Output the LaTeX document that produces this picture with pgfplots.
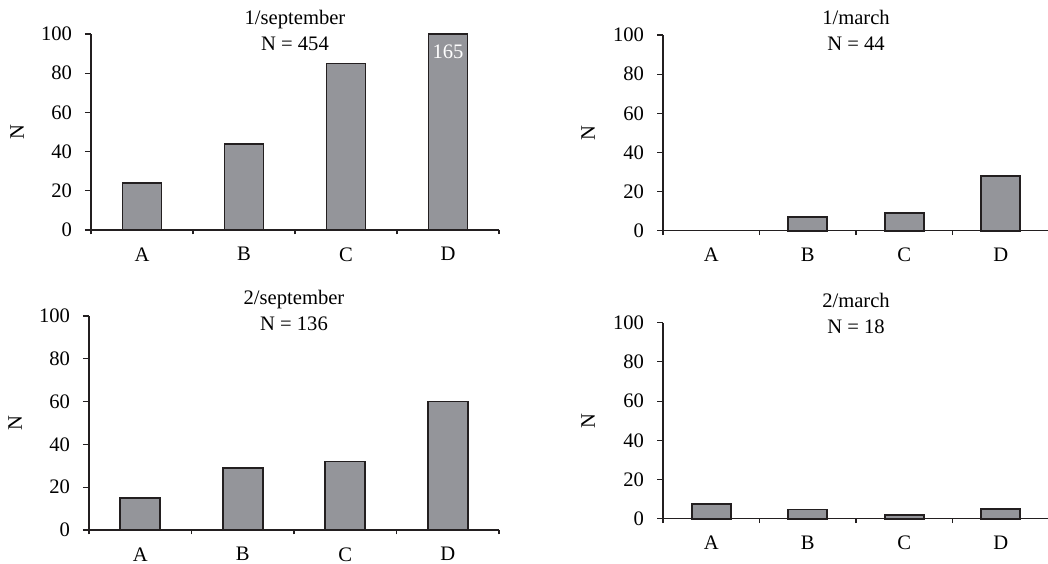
\documentclass[border=0pt]{standalone}
\usepackage{fontspec}
\setmainfont{Liberation Serif}
\usepackage{pgfplots}
\pgfplotsset{compat=1.18}
\definecolor{barfill}{RGB}{148,149,154}
\definecolor{edge}{RGB}{35,31,32}
\pgfplotsset{
  panel/.style={
    scale only axis,
    xmin=0.5, xmax=4.5, ymin=0, ymax=100,
    axis x line=bottom, axis y line=left,
    axis line style={-, edge, line width=0.55pt},
    xtick={1,2,3,4}, xticklabels={A,B,C,D},
    minor xtick={0.5,1.5,2.5,3.5,4.5},
    major x tick style={draw=none},
    minor tick length=2.2pt,
    major tick length=3pt,
    tick align=outside,
    tick style={edge, line width=0.55pt},
    ytick={0,20,...,100},
    /pgf/number format/assume math mode=true,
    tick label style={font=\fontsize{10.3}{12}\selectfont},
    yticklabel style={xshift=-3pt},
    xticklabel style={yshift=-2.2pt},
    ylabel={N},
    ylabel style={font=\fontsize{10.3}{12}\selectfont},
    clip=false,
    ybar, bar width=19.5pt,
  },
  barsty/.style={fill=barfill, draw=edge, line width=0.8pt},
}
\newcommand{\ptitle}[3]{\node[align=center, font=\fontsize{10.3}{13}\selectfont, yshift=#3] at (axis description cs:0.5,1) {#1\\N = #2};}
\begin{document}
\begin{tikzpicture}
\useasboundingbox (0,0) rectangle (524pt,281.5pt);
% Panel 1
\begin{axis}[panel, at={(45.5pt,166.5pt)}, anchor=south west, width=204pt, height=98pt,
  ylabel style={at={(axis description cs:-0.181,0.5)}, anchor=center}]
\addplot[barsty] coordinates {(1,24) (2,44) (3,85) (4,100)};
\ptitle{1/september}{454}{2pt}
\node[white, font=\fontsize{10.3}{12}\selectfont, anchor=center] at (axis cs:4,91) {165};
\end{axis}
% Panel 2
\begin{axis}[panel, at={(331.5pt,166.15pt)}, anchor=south west, width=193pt, height=97.85pt,
  ylabel style={at={(axis description cs:-0.194,0.5)}, anchor=center}]
\addplot[barsty] coordinates {(2,7) (3,9) (4,28)};
\ptitle{1/march}{44}{2.3pt}
\end{axis}
% Panel 3
\begin{axis}[panel, at={(44.5pt,16.5pt)}, anchor=south west, width=205pt, height=107pt, bar width=20pt,
  ylabel style={at={(axis description cs:-0.180,0.5)}, anchor=center}]
\addplot[barsty] coordinates {(1,15) (2,29) (3,32) (4,60)};
\ptitle{2/september}{136}{3pt}
\end{axis}
% Panel 4
\begin{axis}[panel, at={(331.5pt,22.15pt)}, anchor=south west, width=193pt, height=98pt,
  ylabel style={at={(axis description cs:-0.194,0.5)}, anchor=center}]
\addplot[barsty] coordinates {(1,7.5) (2,4.6) (3,2) (4,5.1)};
\ptitle{2/march}{18}{4.6pt}
\end{axis}
\end{tikzpicture}
\end{document}
